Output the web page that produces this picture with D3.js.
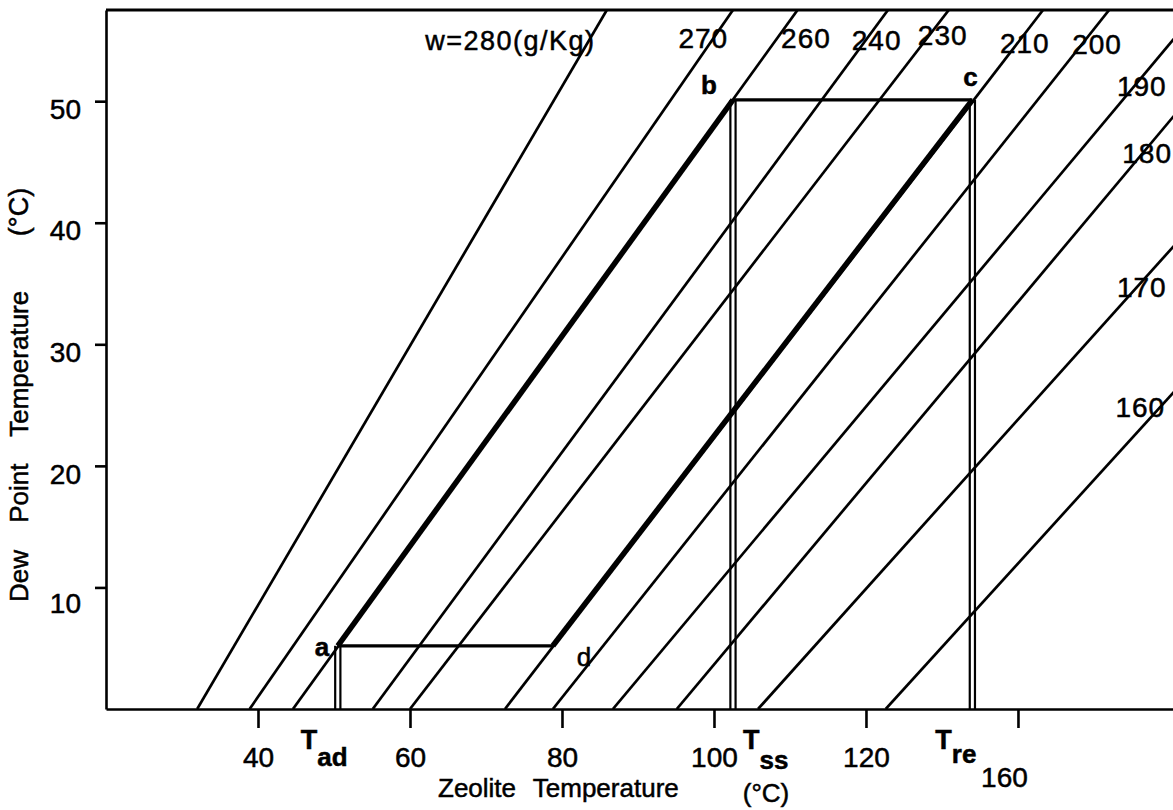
<!DOCTYPE html>
<html><head><meta charset="UTF-8">
<style>
  body { margin: 0; background: #fff; }
  svg { display: block; font-family: "Liberation Sans", Arial, sans-serif; }
  svg text { fill: #000; stroke: #000; stroke-width: 0.5px; }
  .axis path, .axis line { stroke: #000; stroke-width: 2.6; }
  .axis text { font-family: "Liberation Sans", Arial, sans-serif; font-size: 28px; }
</style>
</head>
<body>
<svg id="chart"></svg>
<script src="https://cdn.jsdelivr.net/npm/d3@7/dist/d3.min.js"></script>
<script>
// isosteres, w in g/kg : zeolite temperature where each line meets dew point 0 and the top of the frame
var isostere = [280, 270, 260, 240, 230, 210, 200, 190, 180, 170, 160];
var zeoAtDew0 = [32.0, 38.9, 44.6, 55.1, 60.0, 72.5, 78.8, 86.7, 95.1, 105.8, 122.6];
var zeoAtDewTop = [85.9, 102.5, 111.0, 122.9, 130.9, 143.3, 152.0, 163.7, 172.2, 188.4, 206.2];
var dewTop = 57.5;

// labels of the isosteres
var labelText = ["w=280(g/Kg)", "270", "260", "240", "230", "210", "200", "190", "180", "170", "160"];
var labelZeo = [62.0, 98.6, 112.1, 121.4, 130.1, 140.9, 150.4, 156.3, 157.0, 156.3, 156.1];
var labelDew = [54.2, 54.4, 54.4, 54.2, 54.6, 54.0, 53.9, 50.4, 44.9, 33.9, 24.0];

// cycle a-b-c-d
var pointName = ["a", "b", "c", "d"];
var pointZeo = [50.5, 102.5, 134.0, 78.8];
var pointDew = [5.2, 50.1, 50.1, 5.2];

var xTickValues = [40, 60, 80, 100, 120, 140];
var xTickLabels = ["40", "60", "80", "100", "120", "160"];
var yTickValues = [10, 20, 30, 40, 50];

var W = 1173, H = 810;
var svg = d3.select("#chart").attr("width", W).attr("height", H);

var x = d3.scaleLinear().domain([20, 160.4]).range([106, 1173]);
var y = d3.scaleLinear().domain([0, dewTop]).range([709, 10]);

svg.append("defs").append("clipPath").attr("id", "plot")
  .append("rect")
  .attr("x", x(20)).attr("y", y(dewTop))
  .attr("width", x(160.4) - x(20)).attr("height", y(0) - y(dewTop));

// top border of the frame
svg.append("line")
  .attr("x1", x(20)).attr("x2", W)
  .attr("y1", y(dewTop)).attr("y2", y(dewTop))
  .attr("stroke", "#000").attr("stroke-width", 3);

// axes
var xAxis = d3.axisBottom(x).tickValues(xTickValues).tickSize(19).tickSizeOuter(0)
  .tickFormat(function (d, i) { return xTickLabels[i]; });
var gx = svg.append("g").attr("class", "axis")
  .attr("transform", "translate(0," + y(0) + ")").call(xAxis);
gx.selectAll("text").attr("y", 58).attr("dy", 0);
gx.selectAll("text").filter(function (d, i) { return i === 5; })
  .attr("y", 78).attr("dx", -14);

var yAxis = d3.axisLeft(y).tickValues(yTickValues).tickSize(11).tickSizeOuter(0).tickPadding(14);
var gy = svg.append("g").attr("class", "axis")
  .attr("transform", "translate(" + x(20) + ",0)").call(yAxis);
gy.selectAll("text").attr("dy", "0.72em").attr("y", -3);
gy.selectAll("text").filter(function (d) { return d === 10; }).attr("y", 5);

// axis titles
svg.append("text")
  .attr("x", 438).attr("y", 797)
  .style("font-size", "26px").style("word-spacing", "10px")
  .text("Zeolite Temperature");
svg.append("text")
  .attr("x", 766).attr("y", 802).attr("text-anchor", "middle")
  .style("font-size", "26px")
  .text("(°C)");
svg.append("text")
  .attr("transform", "translate(28,602) rotate(-90)")
  .style("font-size", "26px").style("word-spacing", "20px")
  .text("Dew Point Temperature");
svg.append("text")
  .attr("transform", "translate(28,212) rotate(-90)").attr("text-anchor", "middle")
  .style("font-size", "27px")
  .text("(°C)");

// isostere labels
svg.append("g").selectAll("text")
  .data(labelText)
  .enter().append("text")
  .attr("x", function (d, i) { return x(labelZeo[i]); })
  .attr("y", function (d, i) { return y(labelDew[i]); })
  .attr("text-anchor", function (d, i) { return i === 0 ? "start" : "middle"; })
  .style("font-size", function (d, i) { return i === 0 ? "27px" : "28px"; })
  .style("letter-spacing", function (d, i) { return i === 0 ? "1.5px" : "1px"; })
  .text(function (d) { return d; });

// isosteres
var plot = svg.append("g").attr("clip-path", "url(#plot)");
plot.selectAll("line.iso")
  .data(isostere)
  .enter().append("line")
  .attr("class", "iso")
  .attr("x1", function (d, i) { return x(zeoAtDew0[i]); })
  .attr("y1", y(0))
  .attr("x2", function (d, i) { return x(zeoAtDewTop[i]); })
  .attr("y2", y(dewTop))
  .attr("stroke", "#000").attr("stroke-width", 2.7);

// cycle: thick adsorption / desorption paths
var thick = [[0, 1], [3, 2]];
plot.selectAll("line.thick")
  .data(thick)
  .enter().append("line")
  .attr("class", "thick")
  .attr("x1", function (d) { return x(pointZeo[d[0]]); })
  .attr("y1", function (d) { return y(pointDew[d[0]]); })
  .attr("x2", function (d) { return x(pointZeo[d[1]]); })
  .attr("y2", function (d) { return y(pointDew[d[1]]); })
  .attr("stroke", "#000").attr("stroke-width", 5.5);

// horizontal a-d and b-c
var flat = [[0, 3], [1, 2]];
plot.selectAll("line.flat")
  .data(flat)
  .enter().append("line")
  .attr("class", "flat")
  .attr("x1", function (d) { return x(pointZeo[d[0]]); })
  .attr("y1", function (d) { return y(pointDew[d[0]]); })
  .attr("x2", function (d) { return x(pointZeo[d[1]]); })
  .attr("y2", function (d) { return y(pointDew[d[1]]); })
  .attr("stroke", "#000").attr("stroke-width", 3.2);

// double verticals down from a, b, c
var drops = [0, 1, 2];
drops.forEach(function (k) {
  [-2.6, 2.6].forEach(function (off) {
    svg.append("line")
      .attr("x1", x(pointZeo[k]) + off).attr("x2", x(pointZeo[k]) + off)
      .attr("y1", y(pointDew[k])).attr("y2", y(0))
      .attr("stroke", "#000").attr("stroke-width", 2.2);
  });
});

// point letters
var letterDx = [-23, -32, -9, 24];
var letterDy = [10, -6, -14, 20];
svg.append("g").selectAll("text")
  .data(pointName)
  .enter().append("text")
  .attr("x", function (d, i) { return x(pointZeo[i]) + letterDx[i]; })
  .attr("y", function (d, i) { return y(pointDew[i]) + letterDy[i]; })
  .style("font-size", "26px")
  .style("font-weight", function (d) { return d === "d" ? "normal" : "bold"; })
  .text(function (d) { return d; });

// T_ad, T_ss, T_re under the axis
var tempSub = ["ad", "ss", "re"];
var tDx = [-37, 10, -37];
var subDy = [17, 20, 14];
tempSub.forEach(function (s, i) {
  var t = svg.append("text")
    .attr("x", x(pointZeo[i]) + tDx[i]).attr("y", 749)
    .style("font-size", "27px").style("font-weight", "bold");
  t.append("tspan").text("T");
  t.append("tspan").attr("dy", subDy[i]).attr("dx", 0).style("font-size", "26px").text(s);
});
</script>
</body></html>
